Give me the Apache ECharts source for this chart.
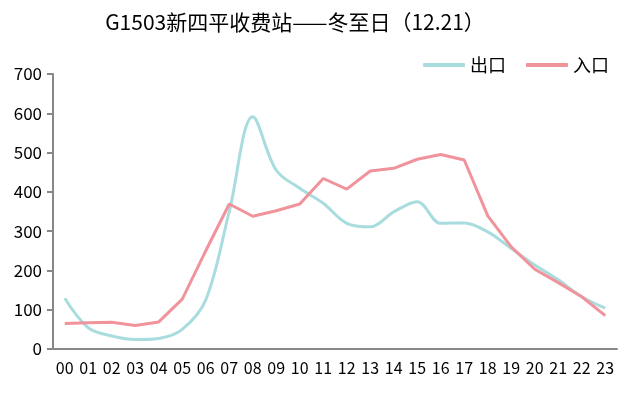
<!DOCTYPE html>
<html><head><meta charset="utf-8">
<script src="https://cdn.jsdelivr.net/npm/echarts@6/dist/echarts.min.js"></script>
<style>html,body{margin:0;padding:0;background:#fff}#c{width:634px;height:396px}</style>
</head><body><div id="c"></div>
<script>
const titleText = 'G1503新四平收费站——冬至日（12.21）';
const hours = ['00','01','02','03','04','05','06','07','08','09','10','11','12','13','14','15','16','17','18','19','20','21','22','23'];
const exitName = '出口';
const entryName = '入口';
const exitValues = [129, 54, 33, 24, 27, 50, 125, 350, 591, 455, 409, 371, 320, 311, 349, 375, 320, 321, 298, 256, 214, 176, 133, 104];
const entryValues = [65, 67, 68, 60, 69, 127, 250, 369, 338, 352, 369, 434, 407, 453, 460, 483, 495, 481, 339, 260, 203, 169, 133, 85];
const yTicks = {min: 0, max: 700, interval: 100};

const font = '"Noto Sans CJK SC", "Noto Sans", sans-serif';
const chart = echarts.init(document.getElementById('c'), null, {renderer: 'canvas'});
chart.setOption({
  animation: false,
  backgroundColor: '#fff',
  title: {
    text: titleText, left: 290, textAlign: 'center', top: 7,
    textStyle: {fontFamily: font, fontSize: 21, fontWeight: 'normal', color: '#000'}
  },
  legend: {
    data: [exitName, entryName], right: 20, top: 51,
    icon: 'roundRect', itemWidth: 42, itemHeight: 4, itemGap: 20,
    textStyle: {fontFamily: font, fontSize: 18, color: '#000'}
  },
  grid: {left: 53, right: 17, top: 74, bottom: 47, containLabel: false},
  xAxis: {
    type: 'category', data: hours, boundaryGap: true,
    axisLine: {lineStyle: {color: '#888', width: 2}},
    axisTick: {alignWithLabel: false, length: 6, lineStyle: {color: '#888', width: 2}},
    axisLabel: {interval: 0, margin: 11, color: '#000', fontFamily: font, fontSize: 16}
  },
  yAxis: {
    type: 'value', min: yTicks.min, max: yTicks.max, interval: yTicks.interval,
    axisLine: {show: true, lineStyle: {color: '#888', width: 2}},
    axisTick: {show: true, length: 6, lineStyle: {color: '#888', width: 2}},
    splitLine: {show: false},
    axisLabel: {margin: 11, color: '#000', fontFamily: font, fontSize: 17}
  },
  series: [
    {name: exitName, type: 'line', data: exitValues, smooth: 0.35, symbol: 'none',
     itemStyle: {color: '#a9dcdf'}, lineStyle: {color: '#a9dcdf', width: 3}},
    {name: entryName, type: 'line', data: entryValues, smooth: false, symbol: 'none',
     itemStyle: {color: '#f0939b'}, lineStyle: {color: '#f0939b', width: 3}}
  ]
});
</script></body></html>
